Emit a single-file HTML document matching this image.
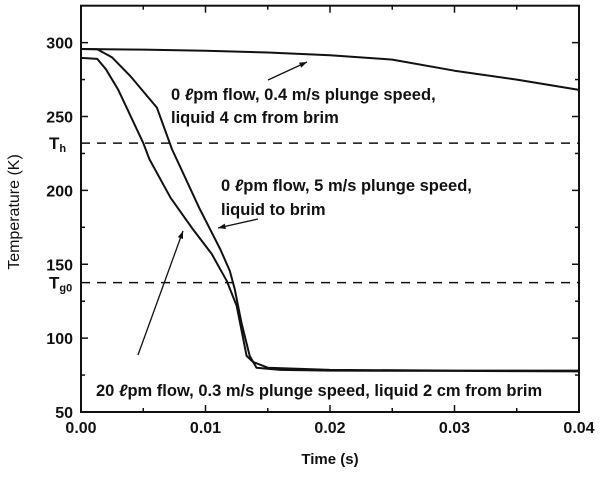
<!DOCTYPE html>
<html><head><meta charset="utf-8"><style>
body{margin:0;background:#fff}
svg text{font-family:"Liberation Sans",sans-serif;font-weight:bold;fill:#111}
</style></head><body>
<svg id="chart" width="600" height="473" viewBox="0 0 600 473" xmlns="http://www.w3.org/2000/svg">
<g id="marks"></g>
<g id="axes"></g>
<text x="0" y="0" transform="translate(19,212) rotate(-90)" text-anchor="middle" font-size="16" style="font-weight:normal">Temperature (K)</text>
<text x="330" y="464" text-anchor="middle" font-size="15">Time (s)</text>
<g font-size="16.5">
<text x="171" y="100">0  <tspan font-style="italic">ℓ</tspan>pm flow, 0.4 m/s plunge speed,</text>
<text x="171" y="123">liquid 4 cm from brim</text>
</g>
<g font-size="16.5">
<text x="221" y="191">0  <tspan font-style="italic">ℓ</tspan>pm flow, 5 m/s plunge speed,</text>
<text x="221" y="215">liquid to brim</text>
</g>
<g font-size="16.5">
<text x="96" y="396">20  <tspan font-style="italic">ℓ</tspan>pm flow, 0.3 m/s plunge speed, liquid 2 cm from brim</text>
</g>
</svg>
<script>
const xTicks=[0,0.01,0.02,0.03,0.04];
const xTickLabels=["0.00","0.01","0.02","0.03","0.04"];
const yTicks=[50,100,150,200,250,300];
const thresholds=[232,137.6];
const thresholdLabels=["h","g0"];
const tA=[0,0.005,0.01,0.015,0.02,0.025,0.03,0.035,0.04];
const vA=[295.7,295.3,294.5,293.3,291.5,288.5,281,275,268];
const tB=[0,0.0013,0.0025,0.004,0.0061,0.0073,0.0095,0.0112,0.01195,0.01235,0.0129,0.01355,0.0141,0.016,0.02,0.03,0.04];
const vB=[295.7,295.5,290,277,256,228,188,160,145.5,133,110,88,80,78.5,78,77.8,77.5];
const tC=[0,0.0013,0.002,0.003,0.004,0.005,0.0055,0.0072,0.009,0.0105,0.0117,0.0125,0.0133,0.0138,0.015,0.02,0.03,0.04];
const vC=[289.7,289,282,268,250,232,221,195,173.6,157,138.8,122,88,84,80,78.5,78,78];
const X0=81,X1=579,Y0=412,Y1=5.7,TMAX=0.04,VMIN=50,VMAX=325;
const xs=t=>X0+(t/TMAX)*(X1-X0);
const ys=v=>Y0-(v-VMIN)/(VMAX-VMIN)*(Y0-Y1);
const NS="http://www.w3.org/2000/svg";
const marks=document.getElementById('marks'),axes=document.getElementById('axes');
function mk(tag,attrs,parent){const e=document.createElementNS(NS,tag);for(const k in attrs)e.setAttribute(k,attrs[k]);parent.appendChild(e);return e;}
const fr=mk('rect',{x:X0,y:Y1,width:X1-X0,height:Y0-Y1,fill:'none',stroke:'#111','stroke-width':2},axes);


for(let i=0;i<xTicks.length;i++){const x=xs(xTicks[i]);
 mk('line',{x1:x,x2:x,y1:Y0,y2:Y0-7,stroke:'#111','stroke-width':1.5},axes);
 mk('line',{x1:x,x2:x,y1:Y1,y2:Y1+7,stroke:'#111','stroke-width':1.5},axes);
 if(i<xTicks.length-1){const xm=xs(xTicks[i]+0.005);
  mk('line',{x1:xm,x2:xm,y1:Y0,y2:Y0-4,stroke:'#111','stroke-width':1.5},axes);
  mk('line',{x1:xm,x2:xm,y1:Y1,y2:Y1+4,stroke:'#111','stroke-width':1.5},axes);}
 const t=mk('text',{x:x,y:Y0+21,'text-anchor':'middle','font-size':16},axes);t.textContent=xTickLabels[i];
 
 
}
for(let v=50;v<=325;v+=25){const y=ys(v);const major=v%50===0;const L=major?7:4;
 mk('line',{x1:X0,x2:X0+L,y1:y,y2:y,stroke:'#111','stroke-width':1.5},axes);
 mk('line',{x1:X1,x2:X1-L,y1:y,y2:y,stroke:'#111','stroke-width':1.5},axes);}
for(const v of yTicks){const t=mk('text',{x:X0-8,y:ys(v)+6,'text-anchor':'end','font-size':16},axes);t.textContent=v;
 
 }
for(let i=0;i<thresholds.length;i++){const y=ys(thresholds[i]);
 const l=mk('line',{x1:X0,x2:X1,y1:y,y2:y,stroke:'#111','stroke-width':1.5,'stroke-dasharray':'9,7'},marks);
 
 
 const t=mk('text',{x:X0-32,y:y+6,'font-size':17},axes);t.textContent='T';
 const s=mk('tspan',{'font-size':11,dy:3},t);s.textContent=thresholdLabels[i];
 
 }
function series(ts,vs,name){const d=ts.map((t,i)=>(i?'L':'M')+xs(t).toFixed(1)+','+ys(vs[i]).toFixed(1)).join('');
 const p=mk('path',{d:d,fill:'none',stroke:'#111','stroke-width':2,'stroke-linejoin':'round'},marks);
 
 }
series(tA,vA,'series-0lpm-0.4ms');
series(tB,vB,'series-0lpm-5ms');
series(tC,vC,'series-20lpm-0.3ms');
function arrow(x1,y1,x2,y2,name){const g=mk('g',{},marks);
 
 
 mk('line',{x1:x1,y1:y1,x2:x2,y2:y2,stroke:'#111','stroke-width':1.3},g);
 const a=Math.atan2(y2-y1,x2-x1),L=8,w=0.35;
 mk('polygon',{points:`${x2},${y2} ${x2-L*Math.cos(a-w)},${y2-L*Math.sin(a-w)} ${x2-L*Math.cos(a+w)},${y2-L*Math.sin(a+w)}`,fill:'#111'},g);}
arrow(268,80,307,62,'arrow-a');
arrow(258,219,218,228,'arrow-b');
arrow(138,355,183,231,'arrow-c');
</script>
</body></html>
